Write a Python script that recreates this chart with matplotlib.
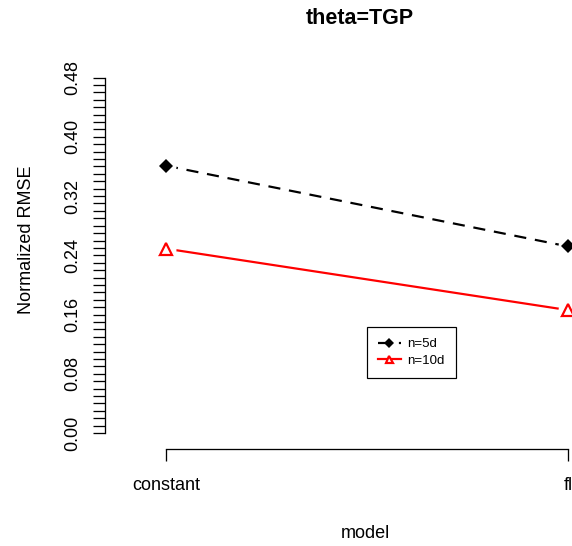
import matplotlib
matplotlib.use('Agg')
from matplotlib import pyplot as plt
from matplotlib.ticker import FixedLocator
import numpy as np

plt.rcParams['font.family'] = ['Liberation Sans', 'DejaVu Sans']

# data
models = ['constant', 'fl']
rmse_5d = [0.361, 0.252]
rmse_10d = [0.249, 0.166]
y_labels = ['0.00', '0.08', '0.16', '0.24', '0.32', '0.40', '0.48']

DPI = 100
W, H = 572, 546


def px(v):
    # pixels -> points
    return v * 72.0 / DPI


fig = plt.figure(figsize=(W / DPI, H / DPI), dpi=DPI)
# plot region in pixels: left 105, right 615 (runs off the canvas), top 48, bottom 449
ax = fig.add_axes([105 / W, 1 - 449 / H, (615 - 105) / W, (449 - 48) / H])

x = np.arange(1, len(models) + 1)

# n=5d : black dashed, filled diamonds
ax.plot(x, rmse_5d, color='black', lw=px(2.2), dashes=(5.5, 4),
        marker='D', ms=px(9.5), mfc='black', mec='black', mew=0,
        label='n=5d', clip_on=False, zorder=2)
# n=10d : red solid, open triangles
ax.plot(x, rmse_10d, color='red', lw=px(2.2),
        marker='^', ms=px(12), mfc='white', mec='red', mew=px(2.2),
        label='n=10d', clip_on=False, zorder=2)

# R type="b" : gaps in the line around each point
for vals in (rmse_5d, rmse_10d):
    ax.plot(x, vals, ls='none', marker='o', ms=px(20), mfc='white',
            mec='none', clip_on=False, zorder=3)
ax.plot(x, rmse_5d, ls='none', marker='D', ms=px(9.5), mfc='black',
        mec='black', mew=0, clip_on=False, zorder=4)
ax.plot(x, rmse_10d, ls='none', marker='^', ms=px(12), mfc='white',
        mec='red', mew=px(2.2), clip_on=False, zorder=4)

ax.set_xlim(1 - 61 / 402, 2 + 47 / 402)
ax.set_ylim(-0.0216, 0.52)

for s in ['top', 'right']:
    ax.spines[s].set_visible(False)
ax.spines['left'].set_bounds(0, 0.48)
ax.spines['bottom'].set_bounds(1, 2)
for s in ['left', 'bottom']:
    ax.spines[s].set_linewidth(px(1.3))

ax.set_xticks(x)
ax.set_xticklabels(models, fontsize=13)
y_major = [float(v) for v in y_labels]
ax.yaxis.set_major_locator(FixedLocator(y_major))
ax.yaxis.set_minor_locator(FixedLocator(np.arange(0, 0.4801, 0.01)))
ax.set_yticklabels(y_labels, fontsize=13, rotation=90, va='center')

ax.tick_params(axis='both', which='both', direction='out', length=px(12),
               width=px(1.3), color='black')
ax.tick_params(axis='x', pad=px(16))
ax.tick_params(axis='y', pad=px(12))

ax.set_xlabel('model', fontsize=13)
ax.xaxis.set_label_coords((365 - 105) / 510, -(533 - 449) / 401)
ax.xaxis.label.set_va('center')
ax.set_ylabel('Normalized RMSE', fontsize=13)
ax.yaxis.set_label_coords(-(105 - 27) / 510, (449 - 240) / 401)
ax.yaxis.label.set_va('center')

fig.text(360 / W, 1 - 18 / H, 'theta=TGP', fontsize=15.5, fontweight='bold',
         ha='center', va='center')

leg = ax.legend(loc='upper left', bbox_to_anchor=(367 / W, 1 - 327 / H),
                bbox_transform=fig.transFigure, borderaxespad=0,
                fontsize=9.5, frameon=True, fancybox=False, framealpha=1,
                edgecolor='black', handlelength=1.7, handletextpad=0.5,
                labelspacing=0.3, borderpad=0.85)
leg.get_frame().set_linewidth(px(1.2))
for h in leg.legend_handles:
    h.set_markersize(px(7))

fig.savefig('out.png', dpi=DPI)
